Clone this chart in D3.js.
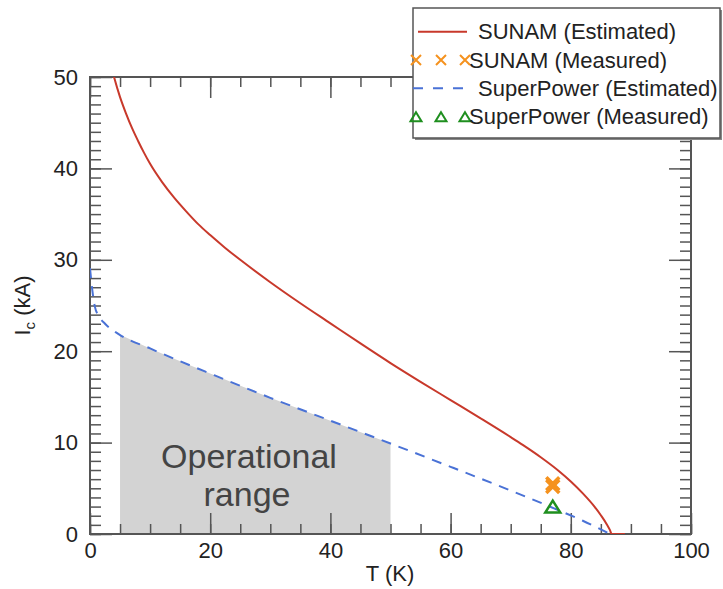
<!DOCTYPE html>
<html>
<head>
<meta charset="utf-8">
<script src="https://cdn.jsdelivr.net/npm/d3@7"></script>
<style>
  html, body { margin: 0; padding: 0; background: #fff; }
  svg { display: block; font-family: "Liberation Sans", Arial, Helvetica, sans-serif; }
</style>
</head>
<body>
<svg id="chart" width="723" height="589"></svg>
<script>
// ---- data ----
const sunamEstT  = [3.6, 4, 5, 6, 7, 8, 9, 10, 12, 14, 16, 18, 20, 22.5, 25, 30, 35, 40, 45, 50, 55, 60, 65, 70, 72, 75, 78, 80, 82, 84, 85, 86, 86.5, 86.8, 89];
const sunamEstIc = [51, 50, 47.8, 46.0, 44.4, 43.0, 41.7, 40.5, 38.5, 36.8, 35.3, 33.9, 32.7, 31.3, 30.0, 27.55, 25.25, 23.05, 20.85, 18.7, 16.65, 14.65, 12.65, 10.6, 9.75, 8.4, 6.9, 5.75, 4.45, 2.95, 2.05, 1.05, 0.45, 0, 0];

const spEstT  = [0, 0.4, 0.8, 1.5, 2.5, 4.7, 10, 15, 20, 30, 40, 50, 60, 70, 77.6, 82, 86.5];
const spEstIc = [29.1, 26.6, 24.9, 23.8, 23.0, 21.9, 20.3, 18.9, 17.55, 14.9, 12.4, 9.9, 7.35, 4.75, 2.7, 1.45, 0];

const sunamMeasT  = [77, 77];
const sunamMeasIc = [5.2, 5.5];

const spMeasT  = [77];
const spMeasIc = [3.0];

const opRange = [5, 50]; // operational temperature range (K)

const xMajorTicks = [0, 20, 40, 60, 80, 100];
const xMinorTicks = d3.range(0, 101, 5);
const yMajorTicks = [0, 10, 20, 30, 40, 50];
const yMinorTicks = d3.range(0, 51, 1);

const legendLabels = ["SUNAM (Estimated)", "SUNAM (Measured)", "SuperPower (Estimated)", "SuperPower (Measured)"];

// ---- styles ----
const RED = "#c8392b", BLUE = "#4a72d6", ORANGE = "#f5921e", GREEN = "#1f8f1f", AXIS = "#555";

const svg = d3.select("#chart");
const x = d3.scaleLinear().domain([0, 100]).range([90, 691]);
const y = d3.scaleLinear().domain([0, 50]).range([534, 77]);

svg.append("defs").append("clipPath").attr("id", "plotclip")
  .append("rect").attr("x", x(0)).attr("y", y(50)).attr("width", x(100) - x(0)).attr("height", y(0) - y(50));

// shaded operational range under the SuperPower curve
const spPts = spEstT.map((t, i) => [t, spEstIc[i]]);
const interpSP = t => {
  for (let i = 0; i < spPts.length - 1; i++) {
    if (t >= spPts[i][0] && t <= spPts[i + 1][0]) {
      const f = (t - spPts[i][0]) / (spPts[i + 1][0] - spPts[i][0]);
      return spPts[i][1] + f * (spPts[i + 1][1] - spPts[i][1]);
    }
  }
  return 0;
};
const shadePts = [[opRange[0], interpSP(opRange[0])]]
  .concat(spPts.filter(p => p[0] > opRange[0] && p[0] < opRange[1]))
  .concat([[opRange[1], interpSP(opRange[1])]]);
const area = d3.area().x(d => x(d[0])).y0(y(0)).y1(d => y(d[1]));
svg.append("path").datum(shadePts).attr("d", area).attr("fill", "#d3d3d3");

// Operational range text
const txt = svg.append("text").attr("fill", "#444").attr("font-size", 34).attr("text-anchor", "middle");
txt.append("tspan").attr("x", 249).attr("y", 468).text("Operational");
txt.append("tspan").attr("x", 247).attr("y", 506).text("range");

// axes (ticks inward)
function tickAxis(gen, scale, vals, size, labels, tr) {
  const a = gen(scale).tickValues(vals).tickSize(-size);
  if (!labels) a.tickFormat("");
  const g = svg.append("g").attr("transform", tr).call(a);
  g.select(".domain").remove();
  g.selectAll(".tick line").attr("stroke", AXIS).attr("stroke-width", 1.5);
  return g;
}
// bottom
tickAxis(d3.axisBottom, x, xMinorTicks, 10, false, `translate(0,${y(0)})`);
const bx = tickAxis(d3.axisBottom, x, xMajorTicks, 21, true, `translate(0,${y(0)})`);
bx.call(g => g.selectAll(".tick text").attr("font-size", 22).attr("fill", "#222").attr("y", 8)
  .attr("font-family", "Liberation Sans, Arial, sans-serif"));
// top
tickAxis(d3.axisTop, x, xMinorTicks, 10, false, `translate(0,${y(50)})`);
tickAxis(d3.axisTop, x, xMajorTicks, 21, false, `translate(0,${y(50)})`);
// left
tickAxis(d3.axisLeft, y, yMinorTicks, 11, false, `translate(${x(0)},0)`);
const ly = tickAxis(d3.axisLeft, y, yMajorTicks, 22, true, `translate(${x(0)},0)`);
ly.call(g => g.selectAll(".tick text").attr("font-size", 22).attr("fill", "#222").attr("x", -12)
  .attr("font-family", "Liberation Sans, Arial, sans-serif"));
// right
tickAxis(d3.axisRight, y, yMinorTicks, 11, false, `translate(${x(100)},0)`);
tickAxis(d3.axisRight, y, yMajorTicks, 22, false, `translate(${x(100)},0)`);

// frame
svg.append("rect").attr("x", x(0)).attr("y", y(50)).attr("width", x(100) - x(0)).attr("height", y(0) - y(50))
  .attr("fill", "none").attr("stroke", AXIS).attr("stroke-width", 2);

// curves
const line = d3.line().x(d => x(d[0])).y(d => y(d[1])).curve(d3.curveMonotoneX);
const plot = svg.append("g").attr("clip-path", "url(#plotclip)");
plot.append("path").datum(spPts).attr("d", line).attr("fill", "none")
  .attr("stroke", BLUE).attr("stroke-width", 2).attr("stroke-dasharray", "10,8");
plot.append("path").datum(sunamEstT.map((t, i) => [t, sunamEstIc[i]])).attr("d", line).attr("fill", "none")
  .attr("stroke", RED).attr("stroke-width", 2);

// markers
const crossPath = (cx, cy, r) => `M${cx - r},${cy - r}L${cx + r},${cy + r}M${cx - r},${cy + r}L${cx + r},${cy - r}`;
const triPath = (cx, cy, w, h) => `M${cx},${cy - h / 2}L${cx + w / 2},${cy + h / 2}L${cx - w / 2},${cy + h / 2}Z`;
svg.selectAll(".sm").data(sunamMeasT.map((t, i) => [t, sunamMeasIc[i]])).enter().append("path")
  .attr("d", d => crossPath(x(d[0]), y(d[1]), 6.5)).attr("stroke", ORANGE).attr("stroke-width", 3.5).attr("fill", "none");
svg.selectAll(".pm").data(spMeasT.map((t, i) => [t, spMeasIc[i]])).enter().append("path")
  .attr("d", d => triPath(x(d[0]), y(d[1]), 15, 12)).attr("stroke", GREEN).attr("stroke-width", 2.5)
  .attr("fill", "none").attr("stroke-linejoin", "miter");

// axis titles
svg.append("text").attr("x", 390).attr("y", 581).attr("text-anchor", "middle").attr("font-size", 22)
  .attr("fill", "#222").text("T (K)");
const yl = svg.append("text").attr("transform", `translate(30,${(y(0) + y(50)) / 2}) rotate(-90)`)
  .attr("text-anchor", "middle").attr("font-size", 22).attr("fill", "#222");
yl.append("tspan").text("I");
yl.append("tspan").attr("font-size", 15).attr("dy", 5).text("c");
yl.append("tspan").attr("dy", -5).text(" (kA)");

// legend
const lg = svg.append("g");
lg.append("rect").attr("x", 415).attr("y", 10).attr("width", 307).attr("height", 130).attr("fill", "#888");
lg.append("rect").attr("x", 413).attr("y", 8).attr("width", 307).attr("height", 130)
  .attr("fill", "#fff").attr("stroke", AXIS).attr("stroke-width", 1.5);
const rows = [31.7, 60, 88.3, 116.7];
lg.append("line").attr("x1", 418).attr("x2", 467).attr("y1", rows[0]).attr("y2", rows[0]).attr("stroke", RED).attr("stroke-width", 2);
[416, 441, 465].forEach(cx => {
  lg.append("path").attr("d", crossPath(cx, rows[1], 5)).attr("stroke", ORANGE).attr("stroke-width", 2).attr("fill", "none");
  lg.append("path").attr("d", triPath(cx, rows[3], 11, 9)).attr("stroke", GREEN).attr("stroke-width", 2).attr("fill", "none");
});
lg.append("line").attr("x1", 413).attr("x2", 467).attr("y1", rows[2]).attr("y2", rows[2]).attr("stroke", BLUE)
  .attr("stroke-width", 2).attr("stroke-dasharray", "10,10");
const textX = [478, 469, 478, 469];
legendLabels.forEach((lab, i) => {
  lg.append("text").attr("x", textX[i]).attr("y", rows[i] + 7.5).attr("font-size", 22).attr("fill", "#222").text(lab);
});
</script>
</body>
</html>
